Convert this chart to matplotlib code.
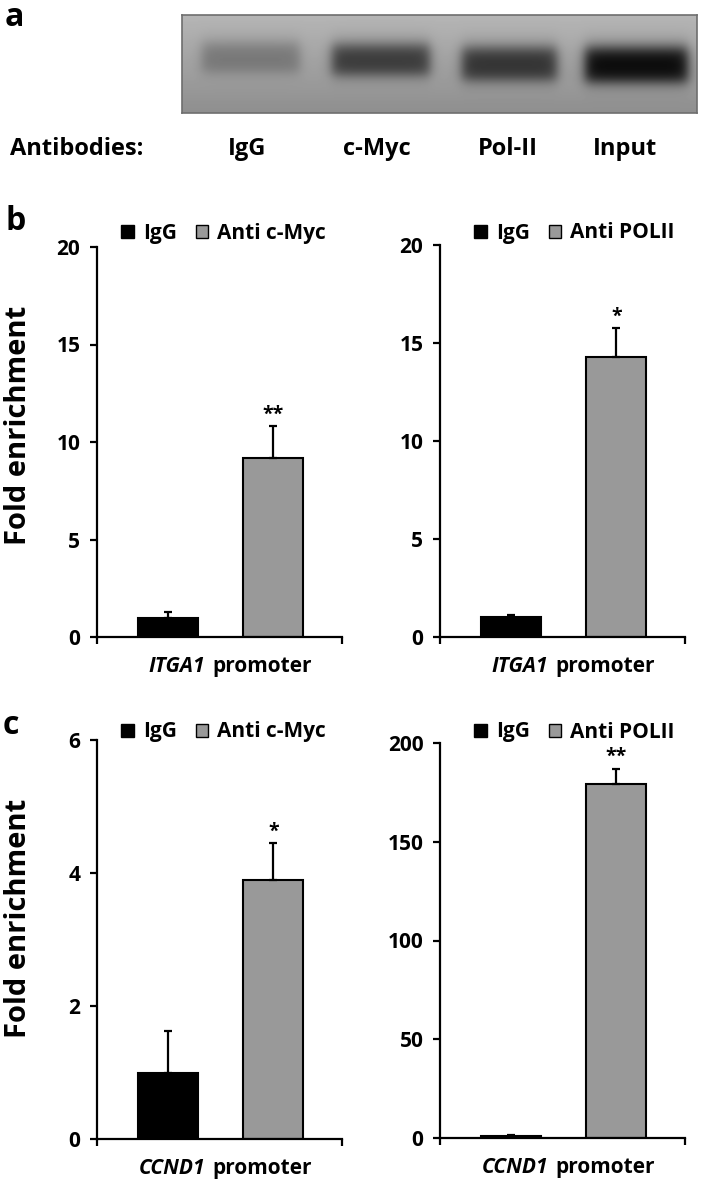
import numpy as np
import matplotlib
matplotlib.use("Agg")
import matplotlib.pyplot as plt
from matplotlib.patches import Patch

plt.rcParams["font.family"] = ["Open Sans", "DejaVu Sans"]
plt.rcParams["font.weight"] = "bold"

W, H = 701, 1186

# panel a: gel bands (pixel positions inside the gel box, darkness 0..1)
lane_labels = ["IgG", "c-Myc", "Pol-II", "Input"]
lane_label_x = [247, 377, 508, 625]
band_left = [20, 150, 280, 403]
band_right = [118, 248, 375, 506]
band_top = [28, 30, 33, 33]
band_bottom = [57, 60, 65, 67]
band_darkness = [0.28, 0.66, 0.70, 0.95]

# panels b and c
groups = ["IgG", "Anti"]
b_myc_vals = [1.0, 9.2]
b_myc_err = [0.3, 1.6]
b_pol_vals = [1.0, 14.3]
b_pol_err = [0.12, 1.45]
c_myc_vals = [1.0, 3.9]
c_myc_err = [0.62, 0.55]
c_pol_vals = [1.0, 179.0]
c_pol_err = [0.6, 8.0]

bar_colors = ["black", "#999999"]
bar_pos = [0.29, 0.72]


def px_axes(fig, x0, x1, ytop, ybot):
    return fig.add_axes([x0 / W, 1 - ybot / H, (x1 - x0) / W, (ybot - ytop) / H])


def draw_gel(fig):
    ax = px_axes(fig, 182, 697, 15, 113)
    gw, gh = 515, 98
    yy = np.arange(gh)[:, None] + 0.5
    xx = np.arange(gw)[None, :] + 0.5
    img = 182 - 0.40 * yy + 0 * xx
    sig = lambda t: 1 / (1 + np.exp(-t))
    for l, r, t, b, d in zip(band_left, band_right, band_top, band_bottom, band_darkness):
        mask = sig((xx - l) / 3.5) * sig((r - xx) / 3.5) * sig((yy - t) / 4.5) * sig((b - yy) / 4)
        img = img * (1 - d * mask)
    ax.imshow(img, cmap="gray", vmin=0, vmax=255, extent=(0, gw, gh, 0),
              aspect="auto", interpolation="bilinear")
    ax.set_xticks([])
    ax.set_yticks([])
    for s in ax.spines.values():
        s.set_color("#6e6e6e")
        s.set_linewidth(1.2)
    fig.text(10 / W, 1 - 149 / H, "Antibodies:", fontsize=17, va="center", ha="left")
    for lab, x in zip(lane_labels, lane_label_x):
        fig.text(x / W, 1 - 149 / H, lab, fontsize=17, va="center", ha="center")


def draw_bars(fig, x0, x1, ytop, ybot, vals, errs, ymax, ystep, leg_label,
              leg_x, leg_y, gene, star):
    ax = px_axes(fig, x0, x1, ytop, ybot)
    ax.bar(bar_pos, vals, width=0.245, color=bar_colors, edgecolor="black",
           linewidth=1.5, zorder=2)
    ax.errorbar(bar_pos, vals, yerr=[[0, 0], errs], fmt="none", ecolor="black",
                elinewidth=1.6, capsize=3, capthick=1.6, zorder=3)
    ax.annotate(star, (bar_pos[1], vals[1] + errs[1]), xytext=(0, 1),
                textcoords="offset points", ha="center", va="bottom", fontsize=14)
    ax.set_xlim(0, 1)
    ax.set_ylim(0, ymax)
    ax.set_yticks(np.arange(0, ymax + ystep / 2, ystep))
    ax.set_xticks([0, 1])
    ax.set_xticklabels([])
    for s in ["top", "right"]:
        ax.spines[s].set_visible(False)
    for s in ["left", "bottom"]:
        ax.spines[s].set_linewidth(1.6)
    ax.tick_params(axis="both", direction="out", length=5, width=1.6, labelsize=15)
    ax.tick_params(axis="y", pad=7)
    ax.set_facecolor("none")
    handles = [Patch(facecolor=bar_colors[0], edgecolor="black"),
               Patch(facecolor=bar_colors[1], edgecolor="black")]
    ax.legend(handles, ["IgG", leg_label], loc="center left", ncol=2,
              bbox_to_anchor=(leg_x / W, 1 - leg_y / H), bbox_transform=fig.transFigure,
              frameon=False, fontsize=15, handlelength=0.6, handleheight=0.6,
              handletextpad=0.45, columnspacing=0.9, borderpad=0, borderaxespad=0)
    split = 0.44
    ax.text(split, -0.075, gene, transform=ax.transAxes, ha="right", va="center",
            fontsize=15, style="italic")
    ax.text(split + 0.03, -0.075, "promoter", transform=ax.transAxes, ha="left",
            va="center", fontsize=15)
    return ax


fig = plt.figure(figsize=(W / 100, H / 100), dpi=100)
draw_gel(fig)

draw_bars(fig, 97, 342, 247, 637, b_myc_vals, b_myc_err, 20, 5, "Anti c-Myc",
          121, 233, "ITGA1", "**")
draw_bars(fig, 440, 685, 245, 637, b_pol_vals, b_pol_err, 20, 5, "Anti POLII",
          474, 233, "ITGA1", "*")
draw_bars(fig, 97, 342, 740, 1139, c_myc_vals, c_myc_err, 6, 2, "Anti c-Myc",
          121, 732, "CCND1", "*")
draw_bars(fig, 440, 685, 743, 1138, c_pol_vals, c_pol_err, 200, 50, "Anti POLII",
          474, 732, "CCND1", "**")

fig.text(19 / W, 1 - 425 / H, "Fold enrichment", rotation=90, fontsize=21,
         ha="center", va="center")
fig.text(19 / W, 1 - 918 / H, "Fold enrichment", rotation=90, fontsize=21,
         ha="center", va="center")

fig.text(5 / W, 1 - 17 / H, "a", fontsize=23, ha="left", va="center")
fig.text(5 / W, 1 - 222 / H, "b", fontsize=23, ha="left", va="center")
fig.text(3 / W, 1 - 726 / H, "c", fontsize=23, ha="left", va="center")

fig.savefig("out.png", dpi=100, facecolor="white")
